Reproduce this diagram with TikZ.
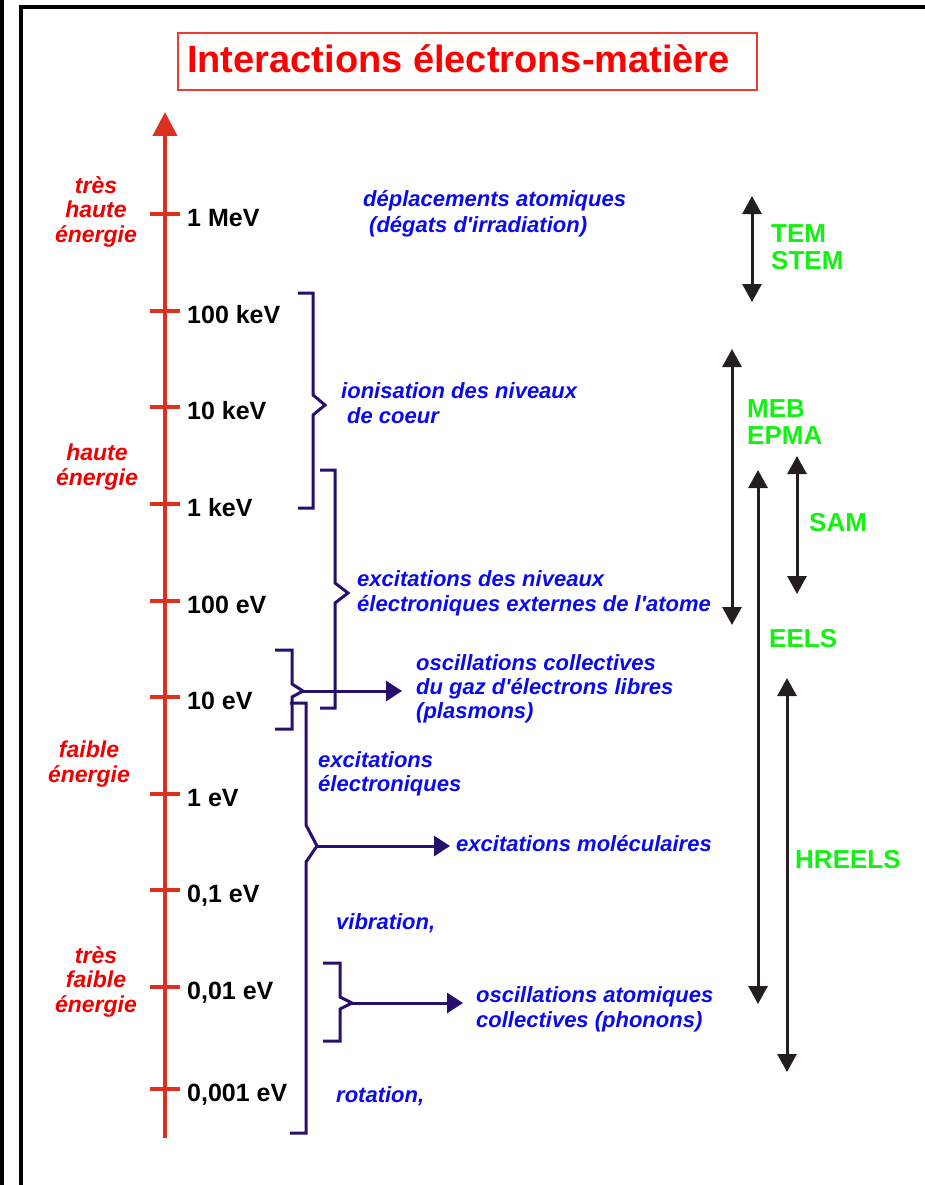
\documentclass[tikz,border=0pt]{standalone}
\usepackage{fontspec}
\setmainfont{Liberation Sans}
\usetikzlibrary{arrows.meta}
\definecolor{axisred}{RGB}{221,48,33}
\definecolor{titlered}{RGB}{255,0,0}
\definecolor{boxred}{RGB}{238,60,50}
\definecolor{labred}{RGB}{240,0,0}
\definecolor{myblue}{RGB}{10,10,240}
\definecolor{techgreen}{RGB}{20,240,20}
\definecolor{navy}{RGB}{40,15,110}
\definecolor{arrblack}{RGB}{35,31,32}
\tikzset{
  lbl/.style={font=\fontsize{25}{30}\selectfont\bfseries, text=black, anchor=base west, inner sep=0pt},
  desc/.style={font=\fontsize{22}{25}\selectfont\bfseries\itshape, text=myblue, anchor=base west, inner sep=0pt, align=left},
  lvl/.style={font=\fontsize{23}{24.5}\selectfont\bfseries\itshape, text=labred, anchor=base, inner sep=0pt, align=center},
  tech/.style={font=\fontsize{26}{26.5}\selectfont\bfseries, text=techgreen, anchor=base west, inner sep=0pt, align=left},
  brace/.style={draw=navy, line width=3pt, line join=miter},
  bracearrow/.style={draw=navy, line width=3pt, -{Triangle[length=16pt,width=20pt]}},
  techrange/.style={draw=arrblack, line width=3pt, {Triangle[length=18pt,width=19pt]}-{Triangle[length=18pt,width=19pt]}},
  axtick/.style={draw=axisred, line width=4pt},
}
\begin{document}
\begin{tikzpicture}[x=1pt,y=-1pt]
\useasboundingbox (0,0) rectangle (925,1185);
\clip (0,0) rectangle (925,1185);
\fill[white] (0,0) rectangle (925,1185);
% frame
\fill[black] (0,0) rectangle (3.5,1185);
\draw[black, line width=3.5pt] (21,7) rectangle (960,1220);
% title
\node[draw=boxred, line width=1.5pt, minimum width=579pt, minimum height=57pt, inner sep=0pt] (titlebox) at (467.5,61.5) {};
\node[font=\fontsize{38}{40}\selectfont\bfseries, text=titlered, anchor=base west, inner sep=0pt] (title) at (187,73) {Interactions électrons-matière};
% axis
\coordinate (axbot) at (165,1138);
\coordinate (axtop) at (165,112);
\draw[draw=axisred, line width=4pt, -{Triangle[length=24pt,width=24pt]}] (axbot) -- (axtop);
\foreach \yy/\nm/\txt in {214/t1/1 MeV, 311/t2/100 keV, 407/t3/10 keV, 504/t4/1 keV, 601/t5/100 eV, 697/t6/10 eV, 794/t7/1 eV, 890/t8/{0,1 eV}, 987/t9/{0,01 eV}, 1089/t10/{0,001 eV}}{
  \draw[axtick] (150,\yy) -- (180,\yy);
  \node[lbl] (\nm) at (187,\yy+12.5) {\txt};
}
% energy levels (anchor base = last line)
\node[lvl] (lv1) at (96,242) {très\\haute\\énergie};
\node[lvl] (lv2) at (97,485) {haute\\énergie};
\node[lvl] (lv3) at (89,782) {faible\\énergie};
\node[lvl] (lv4) at (96,1012) {très\\faible\\énergie};
% descriptions
\node[desc] (d1) at (363,232) {déplacements atomiques\\\hspace*{6pt}(dégats d\textquotesingle irradiation)};
\node[desc] (d2) at (341,423) {ionisation des niveaux\\\hspace*{6pt}de coeur};
\node[desc] (d3) at (357,611) {excitations des niveaux\\électroniques externes de l\textquotesingle atome};
\node[desc, font=\fontsize{22}{24}\selectfont\bfseries\itshape] (d4) at (416,718) {oscillations collectives\\du gaz d\textquotesingle électrons libres\\(plasmons)};
\node[desc, font=\fontsize{22}{24}\selectfont\bfseries\itshape] (d5) at (318,791) {excitations\\électroniques};
\node[desc] (d6) at (456,851) {excitations moléculaires};
\node[desc] (d7) at (336,929) {vibration,};
\node[desc] (d8) at (476,1027) {oscillations atomiques\\collectives (phonons)};
\node[desc] (d9) at (336,1102) {rotation,};
% braces
\draw[brace] (298,293) -- (313,293) -- (313,395) -- (325,405) -- (313,415) -- (313,508) -- (298,508);
\draw[brace] (320,470) -- (335,470) -- (335,583) -- (348,593) -- (335,603) -- (335,708) -- (320,708);
\draw[brace] (275,650) -- (292,650) -- (292,684) -- (303,691) -- (292,697) -- (292,729) -- (275,729);
\draw[brace] (290,703) -- (306,703) -- (306,825) -- (317,846) -- (306,862) -- (306,1133) -- (290,1133);
\draw[brace] (323,963) -- (340,963) -- (340,997) -- (352,1003) -- (340,1009) -- (340,1041) -- (323,1041);
\coordinate (b3tip) at (303,691);
\coordinate (b3end) at (402,691);
\coordinate (b4tip) at (317,846);
\coordinate (b4end) at (450,846);
\coordinate (b5tip) at (352,1003);
\coordinate (b5end) at (463,1003);
\draw[bracearrow] (b3tip) -- (b3end);
\draw[bracearrow] (b4tip) -- (b4end);
\draw[bracearrow] (b5tip) -- (b5end);
% technique ranges
\coordinate (temT) at (752,196); \coordinate (temB) at (752,302);
\coordinate (mebT) at (732,349); \coordinate (mebB) at (732,625);
\coordinate (eelT) at (758,470); \coordinate (eelB) at (758,1004);
\coordinate (samT) at (797,456); \coordinate (samB) at (797,594);
\coordinate (hreT) at (787,678); \coordinate (hreB) at (787,1072);
\draw[techrange] (temT) -- (temB);
\draw[techrange] (mebT) -- (mebB);
\draw[techrange] (eelT) -- (eelB);
\draw[techrange] (samT) -- (samB);
\draw[techrange] (hreT) -- (hreB);
\node[tech] (tem) at (771,269) {TEM\\STEM};
\node[tech] (meb) at (747,444) {MEB\\EPMA};
\node[tech] (sam) at (809,531) {SAM};
\node[tech] (eels) at (769,647) {EELS};
\node[tech] (hreels) at (795,868) {HREELS};
\end{tikzpicture}
\end{document}
